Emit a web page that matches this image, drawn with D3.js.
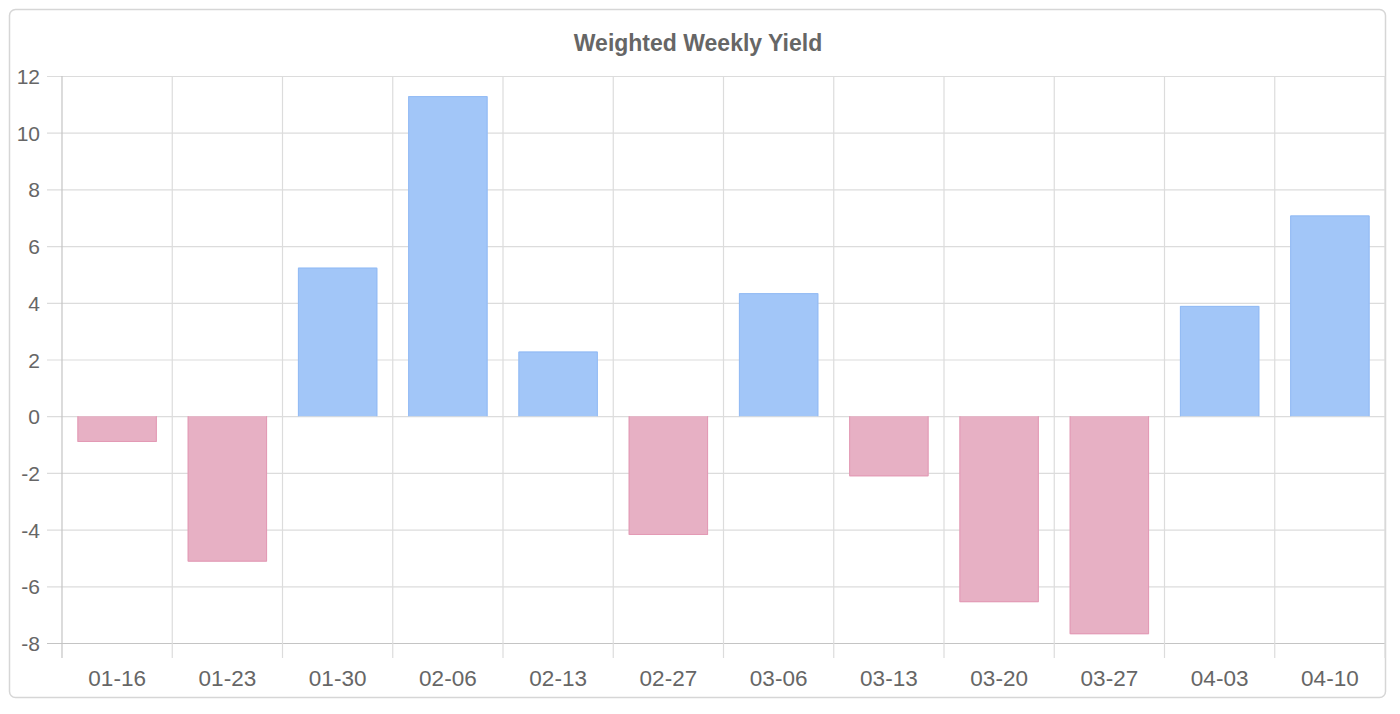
<!DOCTYPE html>
<html>
<head>
<meta charset="utf-8">
<script src="https://cdn.jsdelivr.net/npm/d3@7"></script>
<style>
  html, body { margin: 0; padding: 0; background: #fff; }
  svg { display: block; font-family: "Liberation Sans", Arial, Helvetica, sans-serif; }
</style>
</head>
<body>
<svg id="chart" width="1400" height="714"></svg>
<script>
// ---- data ----
const categories = ["01-16","01-23","01-30","02-06","02-13","02-27","03-06","03-13","03-20","03-27","04-03","04-10"];
const values = [-0.91, -5.13, 5.24, 11.29, 2.28, -4.19, 4.34, -2.12, -6.56, -7.69, 3.89, 7.08];
const yTicks = [12, 10, 8, 6, 4, 2, 0, -2, -4, -6, -8];
const title = "Weighted Weekly Yield";

// ---- layout ----
const plot = { left: 62, right: 1385, top: 76, bottom: 643 };
const svg = d3.select("#chart");

// frame
svg.append("rect")
  .attr("x", 9.5).attr("y", 9.5)
  .attr("width", 1376).attr("height", 688)
  .attr("rx", 6).attr("ry", 6)
  .attr("fill", "#fff")
  .attr("stroke", "#d6d6d6")
  .attr("stroke-width", 1.5);

const x = d3.scaleBand().domain(categories).range([plot.left, plot.right]).paddingInner(0).paddingOuter(0);
const y = d3.scaleLinear().domain([-8, 12]).range([plot.bottom, plot.top]);

const gridColor = "#dcdcdc";
const axisColor = "#c4c4c4";

// horizontal gridlines via axis
const yAxis = d3.axisLeft(y).tickValues(yTicks).tickSize(plot.right - plot.left + 15).tickPadding(7).tickFormat(d => String(d));
const gy = svg.append("g").attr("transform", `translate(${plot.right},0)`).call(yAxis);
gy.select(".domain").remove();
gy.selectAll(".tick line")
  .attr("stroke", d => d === -8 ? axisColor : gridColor)
  .attr("stroke-width", 1.2);
gy.selectAll(".tick text")
  .attr("x", -(plot.right - 40))
  .attr("fill", "#666")
  .attr("font-size", 21)
  .attr("text-anchor", "end")
  .attr("dy", "0.36em");

// vertical gridlines at category boundaries
const bounds = categories.map(c => x(c)).concat([plot.right]);
svg.append("g").selectAll("line").data(bounds).join("line")
  .attr("x1", d => d).attr("x2", d => d)
  .attr("y1", plot.top).attr("y2", plot.bottom + 15)
  .attr("stroke", (d, i) => i === 0 ? axisColor : gridColor)
  .attr("stroke-width", 1.2);

// x labels
const xAxis = d3.axisBottom(x).tickSize(0).tickPadding(0);
const gx = svg.append("g").attr("transform", `translate(0,${plot.bottom})`).call(xAxis);
gx.select(".domain").remove();
gx.selectAll(".tick text")
  .attr("y", 35)
  .attr("dy", "0.36em")
  .attr("fill", "#666")
  .attr("font-size", 22.5);

// bars
const barW = x.bandwidth() * 0.72;
const pos = { fill: "#a2c6f8", stroke: "#93bbf4" };
const neg = { fill: "#e7b0c4", stroke: "#e39ab5" };
const bars = svg.append("g");
categories.forEach((c, i) => {
  const v = values[i];
  const cx = x(c) + x.bandwidth() / 2;
  const x0 = cx - barW / 2, x1 = cx + barW / 2;
  const y0 = y(0), y1 = y(v);
  const col = v >= 0 ? pos : neg;
  bars.append("rect")
    .attr("x", x0).attr("y", Math.min(y0, y1))
    .attr("width", barW).attr("height", Math.abs(y1 - y0))
    .attr("fill", col.fill);
  const p = d3.path();
  const off = v >= 0 ? 0.5 : -0.5;
  p.moveTo(x0 + 0.5, y0);
  p.lineTo(x0 + 0.5, y1 + off);
  p.lineTo(x1 - 0.5, y1 + off);
  p.lineTo(x1 - 0.5, y0);
  bars.append("path").attr("d", p.toString())
    .attr("fill", "none").attr("stroke", col.stroke).attr("stroke-width", 1);
});

// title
svg.append("text")
  .attr("x", 698)
  .attr("y", 43)
  .attr("dy", "0.36em")
  .attr("text-anchor", "middle")
  .attr("font-size", 23)
  .attr("font-weight", "bold")
  .attr("fill", "#666")
  .text(title);
</script>
</body>
</html>
